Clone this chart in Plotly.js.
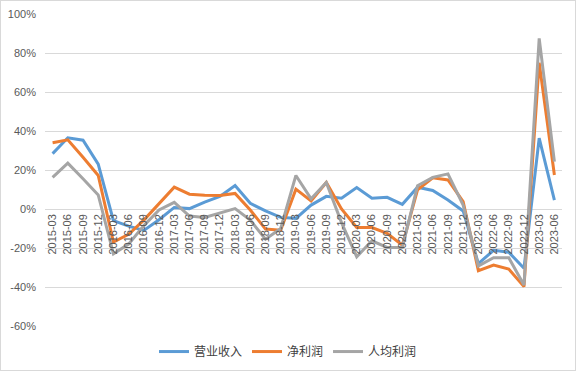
<!DOCTYPE html>
<html>
<head>
<meta charset="utf-8">
<script src="https://cdn.plot.ly/plotly-3.0.1.min.js"></script>
<style>
html,body{margin:0;padding:0;background:#fff;}
#wrap{width:576px;height:371px;box-sizing:border-box;border:1px solid #d9d9d9;overflow:hidden;}
#chart{width:574px;height:369px;}
</style>
</head>
<body>
<div id="wrap"><div id="chart"></div></div>
<script>
var quarters = ["2015-03","2015-06","2015-09","2015-12","2016-03","2016-06","2016-09","2016-12",
"2017-03","2017-06","2017-09","2017-12","2018-03","2018-06","2018-09","2018-12",
"2019-03","2019-06","2019-09","2019-12","2020-03","2020-06","2020-09","2020-12",
"2021-03","2021-06","2021-09","2021-12","2022-03","2022-06","2022-09","2022-12",
"2023-03","2023-06"];

var revenue = [28.4,36.5,35.3,23,-6,-8.8,-11,-5.5,0.8,0.2,3.5,6.4,12,2.9,-1,-4.3,
-4.8,2,6.5,5.5,11,5.5,6,2.4,11.2,9.5,4.6,-1,-28,-21.2,-22.2,-30.4,36.3,4.5];

var netProfit = [34,35.5,26.5,17.2,-17,-13,-5.7,3,11.2,7.6,7,6.9,8,-0.5,-10.3,-10.9,
10.2,4.1,13.6,0,-9.5,-9.5,-12.5,-18.5,9.8,16,14.9,3.8,-31.6,-28.7,-30.8,-39.8,75,17.4];

var perCapita = [16.2,23.5,15.5,7.2,-23,-18,-8.5,-0.5,3.4,-3.6,-4.3,-2,0.2,-5.7,-15.5,-10,
17.2,5.2,13.6,-7,-24.5,-16.3,-19.7,-19.7,11.9,16.2,18,2,-29.2,-25,-25,-39,87.5,24.3];

var seriesNames = ["营业收入","净利润","人均利润"];
var seriesColors = ["#5B9BD5","#ED7D31","#A5A5A5"];
var seriesData = [revenue, netProfit, perCapita];

var yTicks = [-60,-40,-20,0,20,40,60,80,100];

var traces = seriesData.map(function(d,i){
  return {
    x: quarters,
    y: d.map(function(v){return v/100;}),
    type: 'scatter',
    mode: 'lines',
    name: seriesNames[i],
    line: {color: seriesColors[i], width: 3},
    hoverinfo: 'skip'
  };
});

var ymin = -0.6, ymax = 1.0;
var layout = {
  width: 574, height: 369,
  margin: {l: 44, r: 13, t: 13, b: 44},
  paper_bgcolor: '#fff',
  plot_bgcolor: '#fff',
  font: {family: 'Liberation Sans, Arial, Noto Sans CJK SC, sans-serif', size: 11, color: '#595959'},
  showlegend: true,
  legend: {
    orientation: 'h', xref: 'container', x: 0.5, xanchor: 'center',
    yref: 'container', y: 0.05, yanchor: 'middle',
    font: {size: 12, color: '#404040', family: 'Noto Sans CJK SC, sans-serif'},
    itemwidth: 30, tracegroupgap: 0
  },
  xaxis: {
    type: 'category',
    range: [-0.5, quarters.length - 0.5],
    tickangle: -90,
    anchor: 'free',
    position: (0 - ymin) / (ymax - ymin),
    showgrid: false,
    zeroline: false,
    showline: false,
    ticks: '',
    tickfont: {size: 11, color: '#595959'},
    ticklabelstandoff: 2
  },
  yaxis: {
    range: [ymin, ymax],
    tickvals: yTicks.map(function(v){return v/100;}),
    ticktext: yTicks.map(function(v){return v + '%';}),
    showgrid: true,
    gridcolor: '#D9D9D9',
    gridwidth: 1,
    zeroline: false,
    showline: false,
    ticks: '',
    ticklabelstandoff: 8,
    tickfont: {size: 11, color: '#595959'}
  }
};

Plotly.newPlot('chart', traces, layout, {staticPlot: true, displayModeBar: false});
</script>
</body>
</html>
